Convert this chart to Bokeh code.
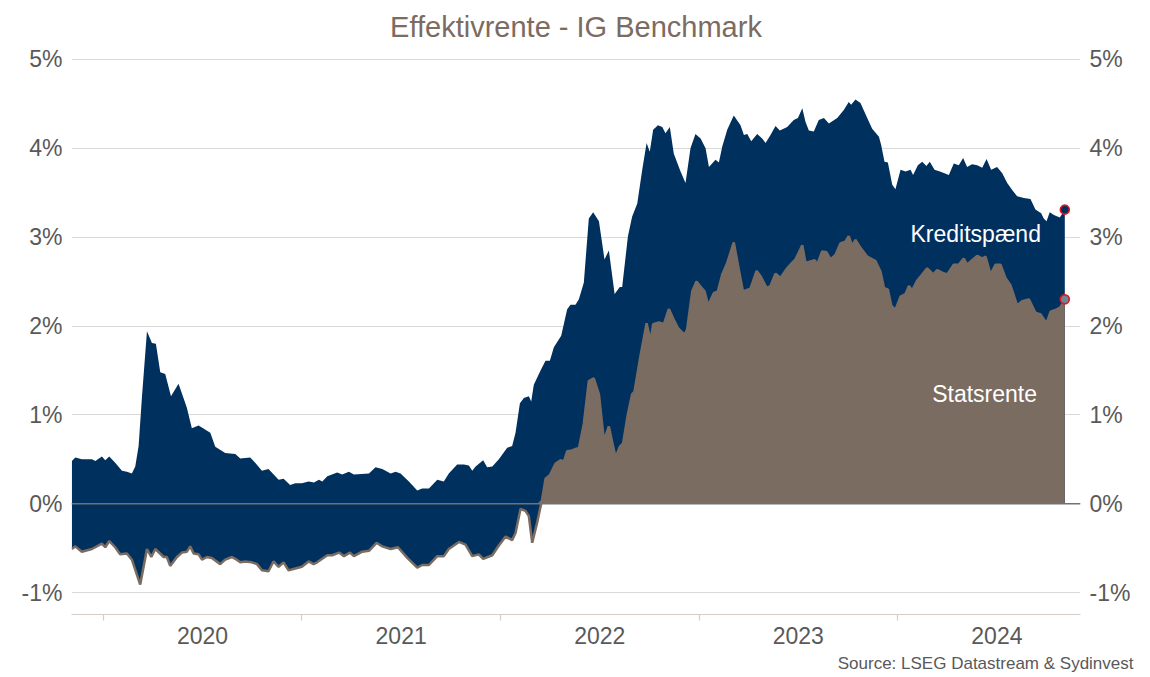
from bokeh.plotting import figure
from bokeh.models import (LinearAxis, FixedTicker, PrintfTickFormatter, CustomJSTickFormatter,
                          Span, Title, Label, Range1d)
from bokeh.embed import file_html
from bokeh.resources import INLINE
import numpy as np

# ---- data (time as decimal year, values in %) ----
total_t = [2019.842, 2019.859, 2019.892, 2019.943, 2019.960, 2019.993, 2020.010, 2020.030, 2020.060, 2020.094,
           2020.119, 2020.144, 2020.161, 2020.178, 2020.195, 2020.220, 2020.245, 2020.265, 2020.287, 2020.312,
           2020.341, 2020.379, 2020.421, 2020.446, 2020.480, 2020.539, 2020.564, 2020.614, 2020.665, 2020.690,
           2020.740, 2020.765, 2020.799, 2020.832, 2020.883, 2020.908, 2020.941, 2020.967, 2021.000, 2021.034,
           2021.061, 2021.086, 2021.103, 2021.128, 2021.178, 2021.203, 2021.237, 2021.262, 2021.338, 2021.371,
           2021.405, 2021.447, 2021.472, 2021.497, 2021.539, 2021.581, 2021.606, 2021.640, 2021.682, 2021.715,
           2021.740, 2021.782, 2021.816, 2021.841, 2021.858, 2021.875, 2021.913, 2021.933, 2021.959, 2021.992,
           2022.034, 2022.059, 2022.076, 2022.098, 2022.118, 2022.143, 2022.155, 2022.168, 2022.202, 2022.227,
           2022.249, 2022.269, 2022.306, 2022.336, 2022.353, 2022.378, 2022.395, 2022.420, 2022.445, 2022.467,
           2022.496, 2022.524, 2022.546, 2022.575, 2022.601, 2022.613, 2022.642, 2022.663, 2022.689, 2022.714,
           2022.736, 2022.752, 2022.769, 2022.793, 2022.815, 2022.831, 2022.853, 2022.873, 2022.907, 2022.932,
           2022.957, 2022.982, 2023.008, 2023.033, 2023.050, 2023.083, 2023.100, 2023.117, 2023.142, 2023.175,
           2023.209, 2023.226, 2023.243, 2023.263, 2023.293, 2023.318, 2023.335, 2023.360, 2023.385, 2023.407,
           2023.444, 2023.477, 2023.498, 2023.520, 2023.536, 2023.553, 2023.578, 2023.603, 2023.629, 2023.654,
           2023.696, 2023.729, 2023.754, 2023.766, 2023.788, 2023.813, 2023.847, 2023.872, 2023.906, 2023.917,
           2023.934, 2023.951, 2023.973, 2023.989, 2024.015, 2024.040, 2024.065, 2024.078, 2024.102, 2024.124,
           2024.145, 2024.162, 2024.186, 2024.213, 2024.236, 2024.258, 2024.283, 2024.308, 2024.330, 2024.350,
           2024.375, 2024.401, 2024.426, 2024.448, 2024.471, 2024.501, 2024.527, 2024.552, 2024.577, 2024.602,
           2024.636, 2024.669, 2024.694, 2024.723, 2024.736, 2024.750, 2024.766, 2024.787, 2024.817, 2024.842]
total_yield = [0.48, 0.52, 0.50, 0.50, 0.48, 0.53, 0.49, 0.53, 0.46, 0.37,
               0.36, 0.34, 0.42, 0.65, 1.21, 1.94, 1.81, 1.80, 1.48, 1.46,
               1.21, 1.35, 1.08, 0.85, 0.88, 0.80, 0.64, 0.57, 0.56, 0.51,
               0.52, 0.46, 0.37, 0.39, 0.27, 0.28, 0.21, 0.23, 0.23, 0.25,
               0.24, 0.27, 0.25, 0.31, 0.35, 0.33, 0.36, 0.33, 0.34, 0.41,
               0.39, 0.34, 0.36, 0.34, 0.25, 0.15, 0.17, 0.17, 0.27, 0.25,
               0.34, 0.44, 0.44, 0.43, 0.37, 0.42, 0.49, 0.41, 0.42, 0.50,
               0.63, 0.65, 0.80, 1.13, 1.19, 1.21, 1.15, 1.34, 1.50, 1.61,
               1.61, 1.76, 1.89, 2.19, 2.24, 2.24, 2.30, 2.49, 3.21, 3.28,
               3.18, 2.75, 2.85, 2.36, 2.44, 2.44, 3.01, 3.23, 3.38, 3.76,
               4.06, 3.96, 4.21, 4.26, 4.24, 4.17, 4.24, 3.94, 3.74, 3.61,
               4.00, 4.16, 4.11, 4.00, 3.79, 3.87, 3.84, 4.02, 4.21, 4.37,
               4.26, 4.15, 4.16, 4.08, 4.16, 4.11, 4.06, 4.15, 4.25, 4.20,
               4.24, 4.32, 4.34, 4.45, 4.30, 4.20, 4.19, 4.32, 4.34, 4.28,
               4.34, 4.43, 4.52, 4.49, 4.55, 4.51, 4.34, 4.22, 4.13, 4.04,
               3.85, 3.84, 3.59, 3.54, 3.76, 3.74, 3.76, 3.70, 3.81, 3.85,
               3.80, 3.85, 3.76, 3.74, 3.72, 3.70, 3.83, 3.81, 3.89, 3.79,
               3.82, 3.81, 3.78, 3.88, 3.76, 3.79, 3.72, 3.61, 3.53, 3.46,
               3.44, 3.43, 3.31, 3.27, 3.21, 3.18, 3.28, 3.25, 3.22, 3.31]

gov_t = [2019.842, 2019.859, 2019.892, 2019.943, 2019.993, 2020.010, 2020.030, 2020.060, 2020.085, 2020.119,
         2020.144, 2020.186, 2020.220, 2020.242, 2020.262, 2020.304, 2020.320, 2020.337, 2020.371, 2020.396,
         2020.421, 2020.438, 2020.455, 2020.480, 2020.497, 2020.522, 2020.547, 2020.589, 2020.614, 2020.648,
         2020.665, 2020.690, 2020.715, 2020.748, 2020.774, 2020.799, 2020.832, 2020.857, 2020.883, 2020.908,
         2020.933, 2020.967, 2021.000, 2021.034, 2021.059, 2021.077, 2021.128, 2021.153, 2021.187, 2021.212,
         2021.242, 2021.262, 2021.304, 2021.338, 2021.376, 2021.405, 2021.447, 2021.484, 2021.531, 2021.581,
         2021.606, 2021.640, 2021.682, 2021.715, 2021.740, 2021.791, 2021.824, 2021.858, 2021.891, 2021.913,
         2021.959, 2021.992, 2022.026, 2022.059, 2022.076, 2022.101, 2022.126, 2022.143, 2022.160, 2022.185,
         2022.210, 2022.227, 2022.249, 2022.277, 2022.303, 2022.319, 2022.336, 2022.361, 2022.383, 2022.395,
         2022.420, 2022.445, 2022.470, 2022.496, 2022.521, 2022.546, 2022.563, 2022.580, 2022.601, 2022.618,
         2022.642, 2022.663, 2022.675, 2022.705, 2022.736, 2022.756, 2022.769, 2022.798, 2022.823, 2022.848,
         2022.873, 2022.893, 2022.927, 2022.940, 2022.966, 2022.987, 2023.016, 2023.028, 2023.046, 2023.075,
         2023.095, 2023.117, 2023.142, 2023.175, 2023.200, 2023.221, 2023.259, 2023.290, 2023.310, 2023.340,
         2023.360, 2023.385, 2023.410, 2023.444, 2023.464, 2023.486, 2023.520, 2023.536, 2023.583, 2023.595,
         2023.620, 2023.642, 2023.662, 2023.687, 2023.712, 2023.737, 2023.754, 2023.771, 2023.788, 2023.813,
         2023.847, 2023.889, 2023.914, 2023.931, 2023.951, 2023.968, 2023.989, 2024.015, 2024.040, 2024.057,
         2024.073, 2024.098, 2024.124, 2024.149, 2024.179, 2024.199, 2024.224, 2024.250, 2024.283, 2024.308,
         2024.333, 2024.350, 2024.375, 2024.401, 2024.426, 2024.443, 2024.468, 2024.493, 2024.518, 2024.543,
         2024.568, 2024.602, 2024.627, 2024.661, 2024.694, 2024.720, 2024.750, 2024.770, 2024.795, 2024.820,
         2024.842]
gov_yield = [-0.51, -0.48, -0.54, -0.51, -0.45, -0.49, -0.42, -0.49, -0.57, -0.56,
             -0.63, -0.91, -0.51, -0.60, -0.51, -0.60, -0.60, -0.70, -0.60, -0.55,
             -0.54, -0.48, -0.56, -0.57, -0.63, -0.60, -0.61, -0.68, -0.63, -0.60,
             -0.62, -0.66, -0.65, -0.66, -0.68, -0.75, -0.76, -0.65, -0.71, -0.66,
             -0.75, -0.73, -0.71, -0.65, -0.68, -0.66, -0.58, -0.58, -0.55, -0.59,
             -0.55, -0.59, -0.54, -0.53, -0.44, -0.48, -0.51, -0.49, -0.61, -0.72,
             -0.69, -0.69, -0.59, -0.59, -0.51, -0.43, -0.46, -0.59, -0.57, -0.62,
             -0.58, -0.47, -0.37, -0.41, -0.33, -0.06, -0.08, -0.14, -0.44, -0.21,
             0.05, 0.28, 0.32, 0.45, 0.49, 0.47, 0.59, 0.60, 0.62, 0.62,
             0.90, 1.38, 1.41, 1.23, 0.71, 0.87, 0.69, 0.52, 0.64, 0.68,
             1.01, 1.23, 1.26, 1.66, 2.03, 1.83, 2.02, 2.04, 2.02, 2.19,
             2.07, 1.98, 1.90, 1.96, 2.39, 2.50, 2.42, 2.39, 2.23, 2.37,
             2.39, 2.58, 2.71, 2.94, 2.64, 2.39, 2.42, 2.62, 2.56, 2.43,
             2.45, 2.59, 2.54, 2.65, 2.70, 2.75, 2.91, 2.71, 2.74, 2.69,
             2.84, 2.83, 2.75, 2.80, 2.93, 2.95, 3.01, 2.90, 2.97, 2.88,
             2.78, 2.73, 2.61, 2.43, 2.41, 2.23, 2.18, 2.33, 2.36, 2.45,
             2.40, 2.51, 2.58, 2.65, 2.58, 2.63, 2.60, 2.58, 2.69, 2.69,
             2.76, 2.69, 2.74, 2.79, 2.76, 2.78, 2.58, 2.69, 2.69, 2.54,
             2.46, 2.23, 2.28, 2.30, 2.15, 2.13, 2.03, 2.16, 2.18, 2.21,
             2.30]

year_labels = ["2020", "2021", "2022", "2023", "2024"]
y_ticks = [-1, 0, 1, 2, 3, 4, 5]

NAVY = "#00305E"
BROWN = "#7B6C62"
TXT = "#595959"
FONT = "Liberation Sans"

gov = np.array(gov_yield)

p = figure(width=1150, height=677, output_backend="svg", toolbar_location=None,
           x_range=Range1d(2019.84, 2024.921), y_range=Range1d(-1.247, 5.101),
           min_border_left=71, min_border_right=70, min_border_top=50, min_border_bottom=62,
           outline_line_color=None, background_fill_color="white", border_fill_color="white")

# areas
p.varea(x=total_t, y1=0, y2=total_yield, fill_color=NAVY)
p.varea(x=gov_t, y1=np.minimum(gov, 0), y2=0, fill_color=NAVY)
p.varea(x=gov_t, y1=0, y2=np.maximum(gov, 0), fill_color=BROWN)
p.line(x=gov_t, y=gov_yield, line_color=BROWN, line_width=2.5)

zero = Span(location=0, dimension="width", line_color="#6E7278", line_width=1.6)
p.add_layout(zero)

# end markers
p.scatter(x=[total_t[-1]], y=[total_yield[-1]], size=9, fill_color=NAVY, line_color="#E8141B", line_width=1.6)
p.scatter(x=[gov_t[-1]], y=[gov_yield[-1]], size=9, fill_color="#6F8596", line_color="#E8141B", line_width=1.6)

# inline labels
p.add_layout(Label(x=2024.065, y=3.04, text="Kreditspænd", text_color="white", text_font=FONT,
                   text_font_size="23px", text_baseline="alphabetic", text_align="left"))
p.add_layout(Label(x=2024.174, y=1.233, text="Statsrente", text_color="white", text_font=FONT,
                   text_font_size="23px", text_baseline="alphabetic", text_align="left"))

# title
p.title.text = "Effektivrente - IG Benchmark"
p.title.align = "center"
p.title.text_font = FONT
p.title.text_font_size = "29px"
p.title.text_font_style = "normal"
p.title.text_color = "#7B6B61"
p.title.standoff = 15

# y axes
yt = FixedTicker(ticks=y_ticks)
yf = PrintfTickFormatter(format="%d%%")
p.yaxis.ticker = yt
p.yaxis.formatter = yf
ra = LinearAxis(ticker=yt, formatter=yf)
p.add_layout(ra, "right")
for ax in p.yaxis:
    ax.axis_line_color = None
    ax.major_tick_line_color = None
    ax.minor_tick_line_color = None
    ax.major_tick_out = 0
    ax.major_tick_in = 0
    ax.major_label_standoff = 9
    ax.major_label_text_font = FONT
    ax.major_label_text_font_size = "23px"
    ax.major_label_text_color = TXT

p.ygrid.ticker = yt
p.ygrid.grid_line_color = "#D9D9D9"
p.ygrid.grid_line_width = 1
p.xgrid.grid_line_color = None

# x axis: labels mid-year, tick marks at year boundaries
years = [int(y) for y in year_labels]
xt = FixedTicker(ticks=[y + 0.5 for y in years], minor_ticks=years)
xa = p.xaxis[0]
xa.ticker = xt
xa.formatter = CustomJSTickFormatter(code="return String(Math.floor(tick));")
xa.axis_line_color = "#D5CEC8"
xa.axis_line_width = 1.2
xa.major_tick_line_color = None
xa.major_tick_out = 0
xa.major_tick_in = 0
xa.minor_tick_line_color = "#D5CEC8"
xa.minor_tick_line_width = 1.2
xa.minor_tick_out = 6
xa.minor_tick_in = 0
xa.major_label_standoff = 6
xa.major_label_text_font = FONT
xa.major_label_text_font_size = "23px"
xa.major_label_text_color = TXT

src = Title(text="Source: LSEG Datastream & Sydinvest", align="right", text_font=FONT,
            text_font_size="17px", text_font_style="normal", text_color=TXT, standoff=10, offset=-53)
p.add_layout(src, "below")

open("out.html", "w").write(file_html(p, INLINE))
